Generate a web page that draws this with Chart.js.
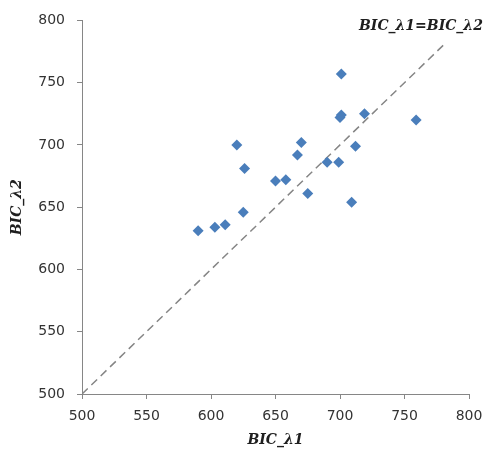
<!DOCTYPE html>
<html>
<head>
<meta charset="utf-8">
<script src="https://cdn.jsdelivr.net/npm/chart.js@4.4.1/dist/chart.umd.min.js"></script>
<style>
  html, body { margin: 0; padding: 0; background: #fff; }
  #wrap { width: 485px; height: 449px; }
</style>
</head>
<body>
<div id="wrap"><canvas id="chart1"></canvas></div>
<script>
// BIC for lambda1 (x) vs lambda2 (y)
const bicL1 = [701, 701, 700, 719, 759, 620, 670, 667, 712, 626, 690, 699, 650, 658, 675, 709, 625, 590, 603, 611];
const bicL2 = [757, 724, 722, 725, 720, 700, 702, 692, 699, 681, 686, 686, 671, 672, 661, 654, 646, 631, 634, 636];

// the y = x reference line
const refX = [500, 780];
const refY = [500, 780];

const xTitle = 'BIC_\u03BB1';
const yTitle = 'BIC_\u03BB2';
const refLabel = 'BIC_\u03BB1=BIC_\u03BB2';

const axisColor = '#868686';
const tickFont = { family: '"DejaVu Sans"', size: 14 };
const titleFont = { family: '"DejaVu Serif"', size: 14, weight: 'bold', style: 'italic' };

let points = bicL1.map((v, i) => ({ x: v, y: bicL2[i] }));
let refLine = refX.map((v, i) => ({ x: v, y: refY[i] }));

// draws the label of the dashed line at the top right
const refLabelPlugin = {
    id: 'refLabel',
    afterDraw(chart) {
        const ctx = chart.ctx;
        ctx.save();
        ctx.font = 'bold italic 14px "DejaVu Serif"';
        ctx.fillStyle = '#1f1f1f';
        ctx.textBaseline = 'middle';
        ctx.fillText(refLabel, 359, 26);
        ctx.restore();
    }
};

const ctx = document.getElementById('chart1');

let chart = new Chart(ctx, {
    type: 'scatter',
    data: {
        datasets: [{
            label: 'points',
            data: points,
            pointStyle: 'rectRot',
            pointRadius: 5.5,
            pointBackgroundColor: '#4A7EBB',
            pointBorderColor: '#4A7EBB',
            pointBorderWidth: 0,
            order: 1
        },
        {
            type: 'line',
            label: 'ref',
            data: refLine,
            borderColor: '#858585',
            borderWidth: 1.5,
            borderDash: [8, 5],
            pointRadius: 0,
            fill: false,
            order: 2
        }]
    },
    options: {
        responsive: true,
        maintainAspectRatio: false,
        animation: false,
        layout: { padding: { top: 20, right: 16, left: 0, bottom: 0 } },
        plugins: {
            legend: { display: false },
            tooltip: { enabled: false }
        },
        scales: {
            x: {
                type: 'linear',
                min: 500,
                max: 800,
                ticks: { stepSize: 50, color: '#333333', font: tickFont, padding: 9, maxRotation: 0 },
                grid: { drawOnChartArea: false, drawTicks: true, tickLength: 5, color: axisColor },
                border: { display: true, color: axisColor, width: 1 },
                title: { display: true, text: xTitle, font: titleFont, color: '#1f1f1f', padding: { top: 0, bottom: 0 } },
                afterFit(scale) {
                    scale.height = 55;
                    // let the layout padding decide the right edge
                    scale.paddingLeft = 0;
                    scale.paddingRight = 0;
                }
            },
            y: {
                type: 'linear',
                min: 500,
                max: 800,
                ticks: { stepSize: 50, color: '#333333', font: tickFont, padding: 12 },
                grid: { drawOnChartArea: false, drawTicks: true, tickLength: 5, color: axisColor },
                border: { display: true, color: axisColor, width: 1 },
                title: { display: true, text: yTitle, font: titleFont, color: '#1f1f1f', padding: { top: 9, bottom: 0 } },
                afterFit(scale) { scale.width = 82; }
            }
        }
    },
    plugins: [refLabelPlugin]
});
</script>
</body>
</html>
